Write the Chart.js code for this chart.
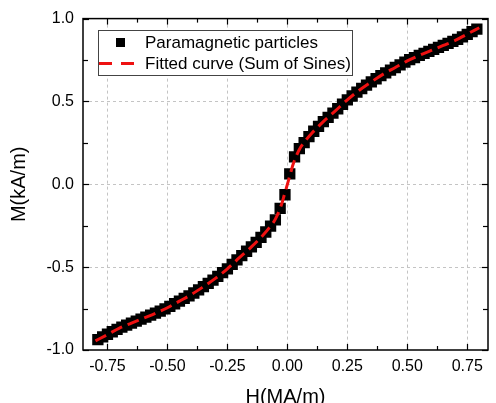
<!DOCTYPE html>
<html>
<head>
<meta charset="utf-8">
<script src="https://cdn.jsdelivr.net/npm/chart.js@4.4.1/dist/chart.umd.min.js"></script>
<style>
html,body{margin:0;padding:0;background:#fff;}
#c{display:block;}
</style>
</head>
<body>
<canvas id="c" width="496" height="403"></canvas>
<script>
// ---- data ----
const hValues = [-0.79,-0.77,-0.75,-0.73,-0.71,-0.69,-0.67,-0.65,-0.63,-0.61,-0.59,-0.57,-0.55,-0.53,-0.51,-0.49,-0.47,-0.45,-0.43,-0.41,-0.39,-0.37,-0.35,-0.33,-0.31,-0.29,-0.27,-0.25,-0.23,-0.21,-0.19,-0.17,-0.15,-0.13,-0.11,-0.09,-0.07,-0.05,-0.03,-0.01,
  0.01,0.03,0.05,0.07,0.09,0.11,0.13,0.15,0.17,0.19,0.21,0.23,0.25,0.27,0.29,0.31,0.33,0.35,0.37,0.39,0.41,0.43,0.45,0.47,0.49,0.51,0.53,0.55,0.57,0.59,0.61,0.63,0.65,0.67,0.69,0.71,0.73,0.75,0.77,0.79];
const mValues = [-0.937,-0.921,-0.905,-0.890,-0.875,-0.862,-0.850,-0.838,-0.826,-0.814,-0.802,-0.790,-0.778,-0.765,-0.752,-0.737,-0.721,-0.705,-0.689,-0.673,-0.656,-0.637,-0.618,-0.598,-0.578,-0.556,-0.533,-0.510,-0.483,-0.456,-0.430,-0.404,-0.378,-0.350,-0.320,-0.288,-0.252,-0.215,-0.145,-0.063,
  0.063,0.165,0.215,0.252,0.288,0.320,0.350,0.378,0.404,0.430,0.456,0.483,0.510,0.533,0.556,0.578,0.598,0.618,0.637,0.656,0.673,0.689,0.705,0.721,0.737,0.752,0.765,0.778,0.790,0.802,0.814,0.826,0.838,0.850,0.862,0.875,0.890,0.905,0.921,0.937];
const fitH = [-0.8,-0.75,-0.7,-0.65,-0.6,-0.55,-0.5,-0.45,-0.4,-0.35,-0.3,-0.25,-0.2,-0.15,-0.1,-0.075,-0.05,-0.025,-0.0125,0,0.0125,0.025,0.05,0.075,0.1,0.15,0.2,0.25,0.3,0.35,0.4,0.45,0.5,0.55,0.6,0.65,0.7,0.75,0.8];
const fitM = [-0.945,-0.907,-0.868,-0.838,-0.808,-0.778,-0.745,-0.705,-0.665,-0.618,-0.568,-0.510,-0.443,-0.378,-0.305,-0.262,-0.210,-0.125,-0.063,0,0.063,0.125,0.210,0.262,0.305,0.378,0.443,0.510,0.568,0.618,0.665,0.705,0.745,0.778,0.808,0.838,0.868,0.907,0.945];
const xTickValues = [-0.75,-0.5,-0.25,0,0.25,0.5,0.75];
const xMinorValues = [-0.875,-0.625,-0.375,-0.125,0.125,0.375,0.625];
const yTickValues = [-1,-0.5,0,0.5,1];
const yMinorValues = [-0.75,-0.25,0.25,0.75];
const legendLabels = ["Paramagnetic particles","Fitted curve (Sum of Sines)"];
const xTitle = "H(MA/m)";
const yTitle = "M(kA/m)";

const FONT = "'Liberation Sans', Arial, sans-serif";

const framePlugin = {
  id: 'frame',
  beforeDatasetsDraw(chart) {
    const {ctx, chartArea: a, scales: {x, y}} = chart;
    ctx.save();
    ctx.strokeStyle = '#c4c4c4';
    ctx.lineWidth = 1;
    ctx.setLineDash([3, 3]);
    xTickValues.forEach(v => {
      const px = Math.round(x.getPixelForValue(v)) + 0.5;
      ctx.beginPath(); ctx.moveTo(px, a.top); ctx.lineTo(px, a.bottom); ctx.stroke();
    });
    [-0.5, 0, 0.5].forEach(v => {
      const py = Math.round(y.getPixelForValue(v)) + 0.5;
      ctx.beginPath(); ctx.moveTo(a.left, py); ctx.lineTo(a.right, py); ctx.stroke();
    });
    ctx.restore();
  },
  afterDatasetsDraw(chart) {
    const {ctx, chartArea: a, scales: {x, y}} = chart;
    ctx.save();
    ctx.strokeStyle = '#000';
    ctx.lineWidth = 1.5;
    ctx.setLineDash([]);
    ctx.strokeRect(a.left, a.top, a.right - a.left, a.bottom - a.top);
    ctx.lineWidth = 1.2;
    const tick = (px, len) => {
      ctx.beginPath(); ctx.moveTo(px, a.bottom); ctx.lineTo(px, a.bottom - len); ctx.stroke();
      ctx.beginPath(); ctx.moveTo(px, a.top); ctx.lineTo(px, a.top + len); ctx.stroke();
    };
    xTickValues.forEach(v => tick(Math.round(x.getPixelForValue(v)) + 0.5, 6));
    xMinorValues.forEach(v => { const p = x.getPixelForValue(v); if (p > a.left + 1 && p < a.right - 1) tick(Math.round(p) + 0.5, 4); });
    const ytick = (py, len) => {
      ctx.beginPath(); ctx.moveTo(a.left, py); ctx.lineTo(a.left + len, py); ctx.stroke();
      ctx.beginPath(); ctx.moveTo(a.right, py); ctx.lineTo(a.right - len, py); ctx.stroke();
    };
    yTickValues.forEach(v => ytick(Math.round(y.getPixelForValue(v)) + 0.5, 6));
    yMinorValues.forEach(v => ytick(Math.round(y.getPixelForValue(v)) + 0.5, 5));

    // legend box
    const bx = 98, by = 30, bw = 254, bh = 45;
    ctx.fillStyle = '#fff';
    ctx.fillRect(bx, by, bw, bh);
    ctx.strokeStyle = '#444';
    ctx.lineWidth = 1;
    ctx.strokeRect(bx + 0.5, by + 0.5, bw, bh);
    const ds0 = chart.data.datasets[1], ds1 = chart.data.datasets[0];
    ctx.fillStyle = ds0.backgroundColor;
    ctx.fillRect(116, 38, 9, 9);
    ctx.strokeStyle = ds1.borderColor;
    ctx.lineWidth = 3;
    ctx.setLineDash([13, 9]);
    ctx.beginPath(); ctx.moveTo(99, 63.5); ctx.lineTo(135, 63.5); ctx.stroke();
    ctx.setLineDash([]);
    ctx.fillStyle = '#000';
    ctx.font = "17px " + FONT;
    ctx.textBaseline = 'middle';
    ctx.textAlign = 'left';
    ctx.fillText(legendLabels[0], 145, 43);
    ctx.fillText(legendLabels[1], 145, 64);
    ctx.restore();
  }
};

new Chart(document.getElementById('c'), {
  type: 'scatter',
  data: {
    datasets: [
      {
        label: legendLabels[1],
        data: fitH.map((h, i) => ({x: h, y: fitM[i]})),
        showLine: true,
        borderColor: '#ee1111',
        borderWidth: 3,
        borderDash: [12, 6],
        pointRadius: 0,
        tension: 0.4,
        cubicInterpolationMode: 'monotone',
        order: 0
      },
      {
        label: legendLabels[0],
        data: hValues.map((h, i) => ({x: h, y: mValues[i]})),
        showLine: false,
        pointStyle: 'rect',
        pointRadius: 8,
        backgroundColor: '#000',
        borderColor: '#000',
        borderWidth: 0,
        order: 1
      }
    ]
  },
  options: {
    responsive: false,
    animation: false,
    devicePixelRatio: 1,
    layout: {padding: {left: 0, right: 3, top: 17, bottom: 0}},
    plugins: {legend: {display: false}, tooltip: {enabled: false}},
    scales: {
      x: {
        type: 'linear',
        min: -0.852,
        max: 0.8365,
        afterBuildTicks: s => { s.ticks = xTickValues.map(v => ({value: v})); },
        afterFit: s => { s.height = 53; },
        grid: {display: false, drawTicks: false},
        border: {display: false},
        ticks: {
          padding: 7,
          color: '#000',
          font: {family: FONT, size: 16},
          maxRotation: 0,
          autoSkip: false,
          callback: v => Number(v).toFixed(2)
        },
        title: {display: true, text: xTitle, color: '#000', font: {family: FONT, size: 20, lineHeight: 0.6}, padding: {top: 0, bottom: 0}}
      },
      y: {
        type: 'linear',
        min: -1,
        max: 1,
        afterBuildTicks: s => { s.ticks = yTickValues.map(v => ({value: v})); },
        afterFit: s => { s.width = 83; },
        grid: {display: false, drawTicks: false},
        border: {display: false},
        ticks: {
          padding: 9,
          color: '#000',
          font: {family: FONT, size: 16},
          autoSkip: false,
          callback: v => Number(v).toFixed(1)
        },
        title: {display: true, text: yTitle, color: '#000', font: {family: FONT, size: 20, lineHeight: 1.0}, padding: {top: 9, bottom: 0}}
      }
    }
  },
  plugins: [framePlugin]
});
</script>
</body>
</html>
